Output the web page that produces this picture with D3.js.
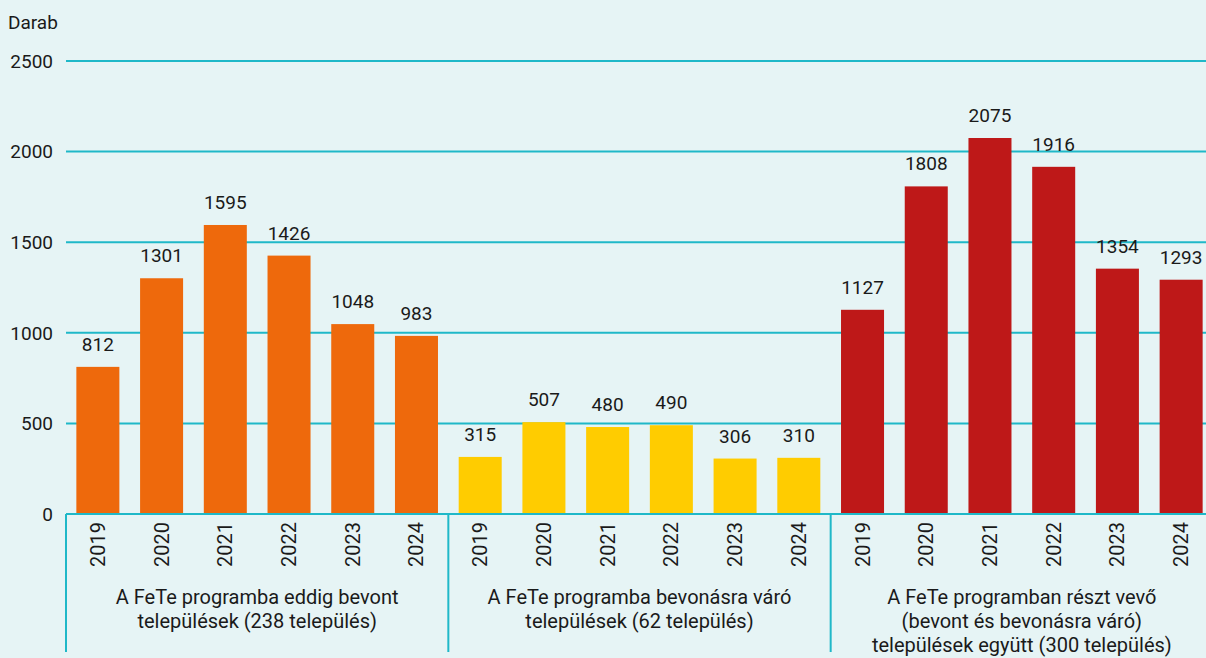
<!DOCTYPE html>
<html>
<head>
<meta charset="utf-8">
<script src="https://cdn.jsdelivr.net/npm/d3@7"></script>
<style>
  body { margin: 0; background: #e6f4f5; }
  svg { display: block; font-family: Roboto, "Noto Sans", sans-serif; }
</style>
</head>
<body>
<svg id="chart" width="1206" height="658"></svg>
<script>
const years = ["2019", "2020", "2021", "2022", "2023", "2024"];
const groups = ["bevont", "varo", "egyutt"];
const groupLabels = [
    ["A FeTe programba eddig bevont", "települések (238 település)"],
    ["A FeTe programba bevonásra váró", "települések (62 település)"],
    ["A FeTe programban részt vevő", "(bevont és bevonásra váró)", "települések együtt  (300 település)"]
];
const bevont = [812, 1301, 1595, 1426, 1048, 983];
const varo = [315, 507, 480, 490, 306, 310];
const egyutt = [1127, 1808, 2075, 1916, 1354, 1293];
const groupColors = ["#ee690c", "#ffcc00", "#be1818"];
const yTicks = [0, 500, 1000, 1500, 2000, 2500];

const seriesValues = [bevont, varo, egyutt];
const bars = [];
groups.forEach((g, gi) => {
    years.forEach((y, yi) => {
        bars.push({ key: g + "-" + y, group: gi, year: y, value: seriesValues[gi][yi] });
    });
});

const svg = d3.select("#chart");
const left = 66, baseY = 514, topY = 61;
const textColor = "#1a1a1a";

const x = d3.scaleBand()
    .domain(bars.map(d => d.key))
    .range([left, 1213])
    .paddingInner(0.325)
    .paddingOuter(0.1625);

const y = d3.scaleLinear().domain([0, 2500]).range([baseY, topY]);

const gridColor = "#1fb8c8";

// grid lines
svg.append("g")
    .selectAll("line")
    .data(yTicks)
    .enter().append("line")
    .attr("x1", left)
    .attr("x2", 1206)
    .attr("y1", d => y(d))
    .attr("y2", d => y(d))
    .attr("stroke", gridColor)
    .attr("stroke-width", 2);

// y tick labels
svg.append("g")
    .selectAll("text")
    .data(yTicks)
    .enter().append("text")
    .attr("x", 53)
    .attr("y", d => y(d))
    .attr("dy", "0.36em")
    .attr("text-anchor", "end")
    .attr("font-size", 19)
    .attr("fill", textColor)
    .text(d => d);

svg.append("text")
    .attr("x", 8)
    .attr("y", 29)
    .attr("font-size", 19)
    .attr("fill", textColor)
    .text("Darab");

// bars
svg.append("g")
    .selectAll("rect")
    .data(bars)
    .enter().append("rect")
    .attr("x", d => x(d.key))
    .attr("y", d => y(d.value))
    .attr("width", x.bandwidth())
    .attr("height", d => baseY - y(d.value))
    .attr("fill", d => groupColors[d.group]);

// value labels
svg.append("g")
    .selectAll("text")
    .data(bars)
    .enter().append("text")
    .attr("x", d => x(d.key) + x.bandwidth() / 2)
    .attr("y", d => y(d.value) - 16)
    .attr("text-anchor", "middle")
    .attr("font-size", 19)
    .attr("fill", textColor)
    .text(d => d.value);

// baseline
svg.append("line")
    .attr("x1", left).attr("x2", 1206)
    .attr("y1", baseY).attr("y2", baseY)
    .attr("stroke", gridColor).attr("stroke-width", 2);

// year labels
svg.append("g")
    .selectAll("text")
    .data(bars)
    .enter().append("text")
    .attr("transform", d => `translate(${x(d.key) + x.bandwidth() / 2 + 7},522) rotate(-90)`)
    .attr("text-anchor", "end")
    .attr("font-size", 20)
    .attr("fill", textColor)
    .text(d => d.year);

// group separators and labels
const step = x.step();
groups.forEach((g, gi) => {
    const gx0 = left + gi * 6 * step;
    const gx1 = gx0 + 6 * step;
    svg.append("line")
        .attr("x1", gx0).attr("x2", gx0)
        .attr("y1", baseY).attr("y2", 652)
        .attr("stroke", gridColor).attr("stroke-width", 2);
    const t = svg.append("text")
        .attr("text-anchor", "middle")
        .attr("font-size", 20)
        .attr("fill", textColor);
    groupLabels[gi].forEach((line, li) => {
        t.append("tspan")
            .attr("x", (gx0 + gx1) / 2)
            .attr("y", 604 + li * 24)
            .text(line);
    });
});
</script>
</body>
</html>
